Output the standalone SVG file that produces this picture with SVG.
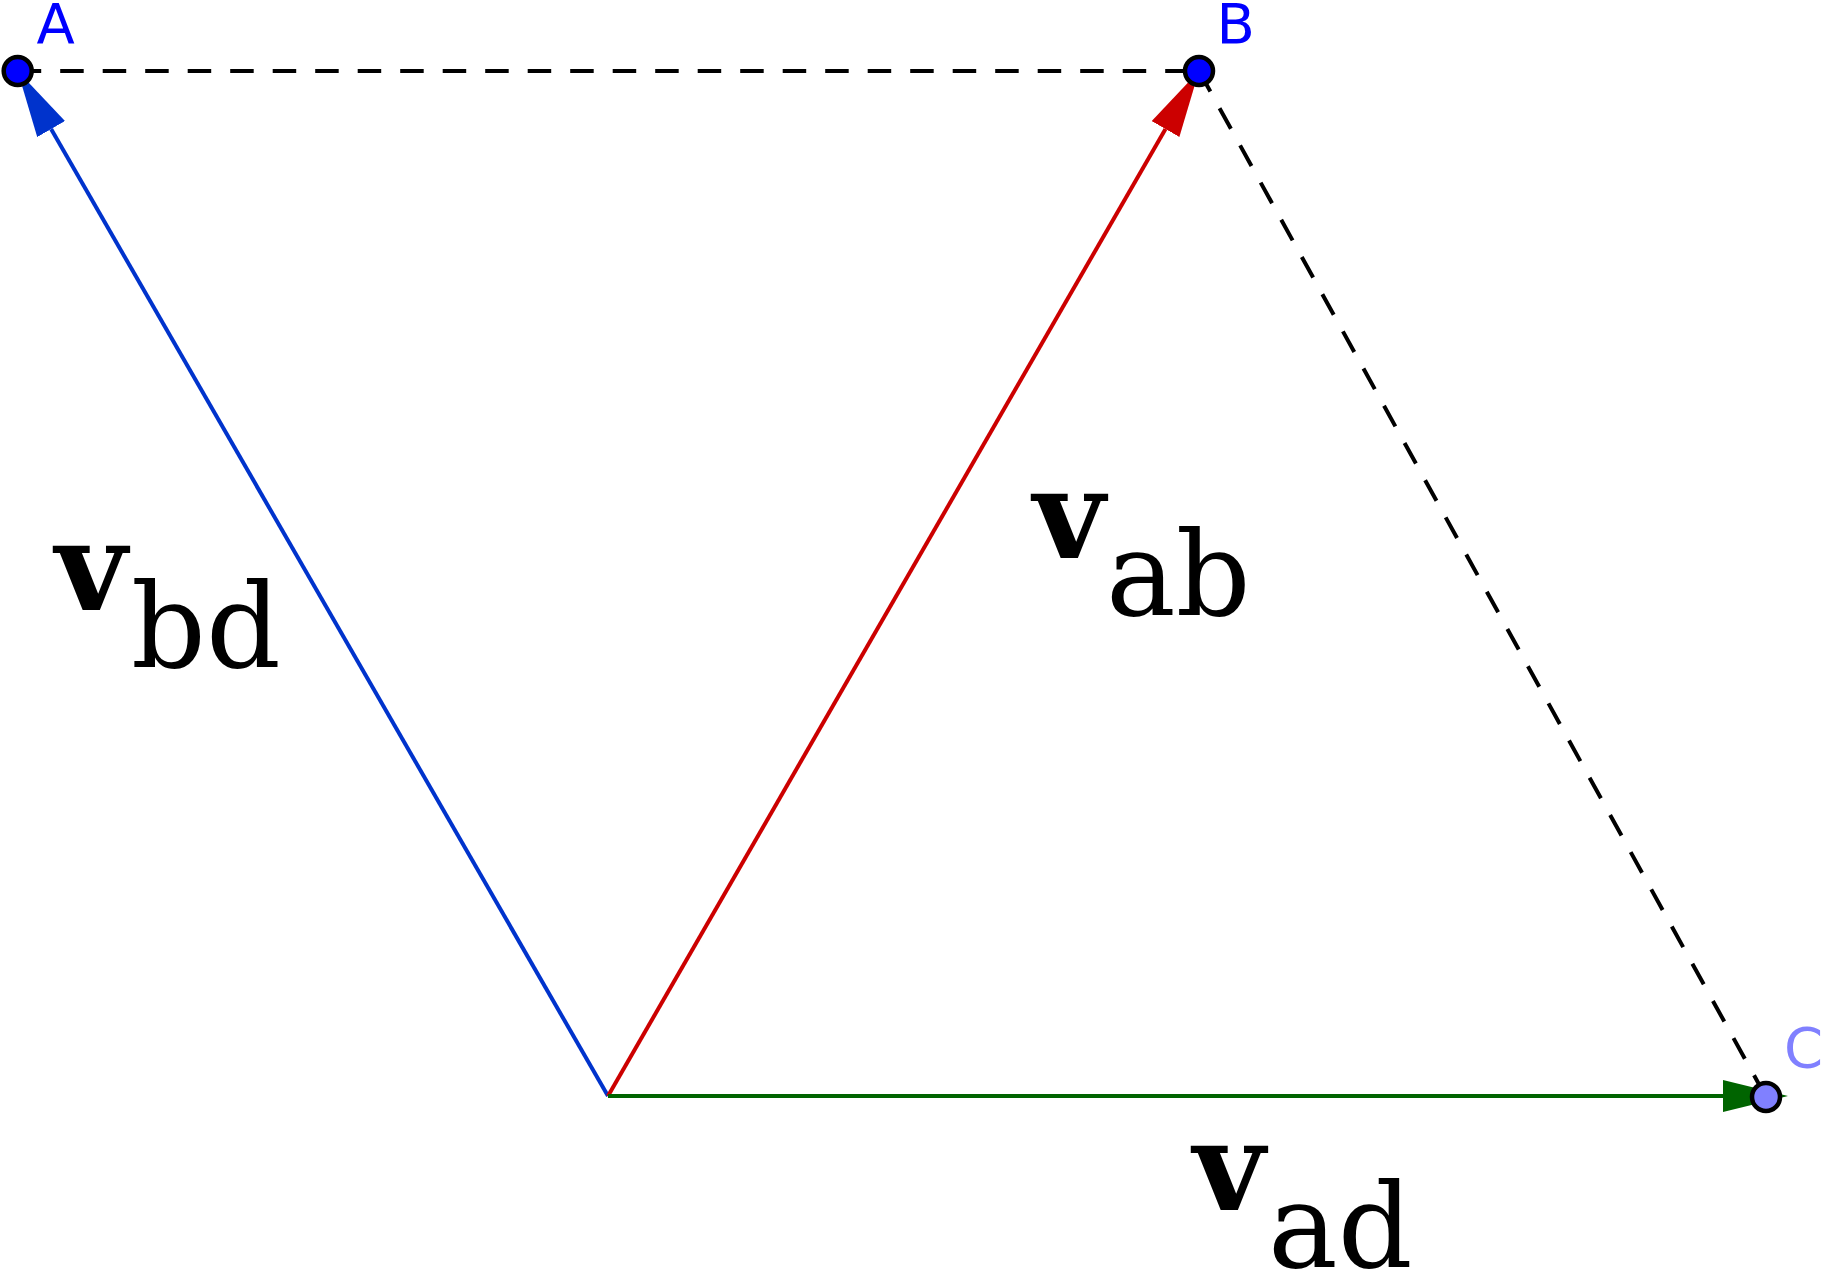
<svg xmlns="http://www.w3.org/2000/svg" width="1822" height="1269" viewBox="0 0 1822 1269">
<style>
.dash{stroke:#000;stroke-width:4;stroke-dasharray:23.5 19;fill:none}
.vec{stroke-width:4;fill:none}
.pt{stroke:#000;stroke-width:4.5}
.lbl{font-family:"DejaVu Sans",sans-serif;font-size:56px}
.vl{font-family:"DejaVu Serif",serif;fill:#000}
.vm{font-weight:bold;font-size:124px}
.vs{font-size:117px}
</style>
<defs>
<marker id="mb" markerUnits="userSpaceOnUse" markerWidth="80" markerHeight="40" refX="0" refY="16" orient="auto" viewBox="0 0 80 40"><path d="M0,0 L67,16 L0,32 Z" fill="#0033cc"/></marker>
<marker id="mr" markerUnits="userSpaceOnUse" markerWidth="80" markerHeight="40" refX="0" refY="16" orient="auto" viewBox="0 0 80 40"><path d="M0,0 L67,16 L0,32 Z" fill="#cc0000"/></marker>
<marker id="mg" markerUnits="userSpaceOnUse" markerWidth="80" markerHeight="40" refX="0" refY="16" orient="auto" viewBox="0 0 80 40"><path d="M0,0 L65,16 L0,32 Z" fill="#006400"/></marker>
</defs>
<g id="connectors">
<line class="dash" x1="17.7" y1="71" x2="1199" y2="71"/>
<line class="dash" x1="1199" y1="71" x2="1766" y2="1097"/>
<line class="vec" stroke="#0033cc" x1="608" y1="1096" x2="51.1" y2="129.1" marker-end="url(#mb)"/>
<line class="vec" stroke="#cc0000" x1="608" y1="1096" x2="1165.5" y2="129" marker-end="url(#mr)"/>
<line class="vec" stroke="#006400" x1="608" y1="1096" x2="1723" y2="1096" marker-end="url(#mg)"/>
</g>
<g id="nodeA">
<circle class="pt" cx="17.7" cy="71" r="14" fill="#0000ff"/>
<text class="lbl" x="36.5" y="43" fill="#0000ff">A</text>
</g>
<g id="nodeB">
<circle class="pt" cx="1199" cy="71" r="14" fill="#0000ff"/>
<text class="lbl" x="1216.5" y="43" fill="#0000ff">B</text>
</g>
<g id="nodeC">
<circle class="pt" cx="1766" cy="1097" r="14" fill="#8080ff"/>
<text class="lbl" x="1784" y="1067" fill="#8080ff">C</text>
</g>
<g id="label-vbd">
<text class="vl"><tspan class="vm" x="55" y="610">v</tspan><tspan class="vs" x="131" y="667">bd</tspan></text>
</g>
<g id="label-vab">
<text class="vl"><tspan class="vm" x="1033" y="558">v</tspan><tspan class="vs" x="1106" y="615">ab</tspan></text>
</g>
<g id="label-vad">
<text class="vl"><tspan class="vm" x="1193" y="1210">v</tspan><tspan class="vs" x="1268" y="1267">ad</tspan></text>
</g>
</svg>
